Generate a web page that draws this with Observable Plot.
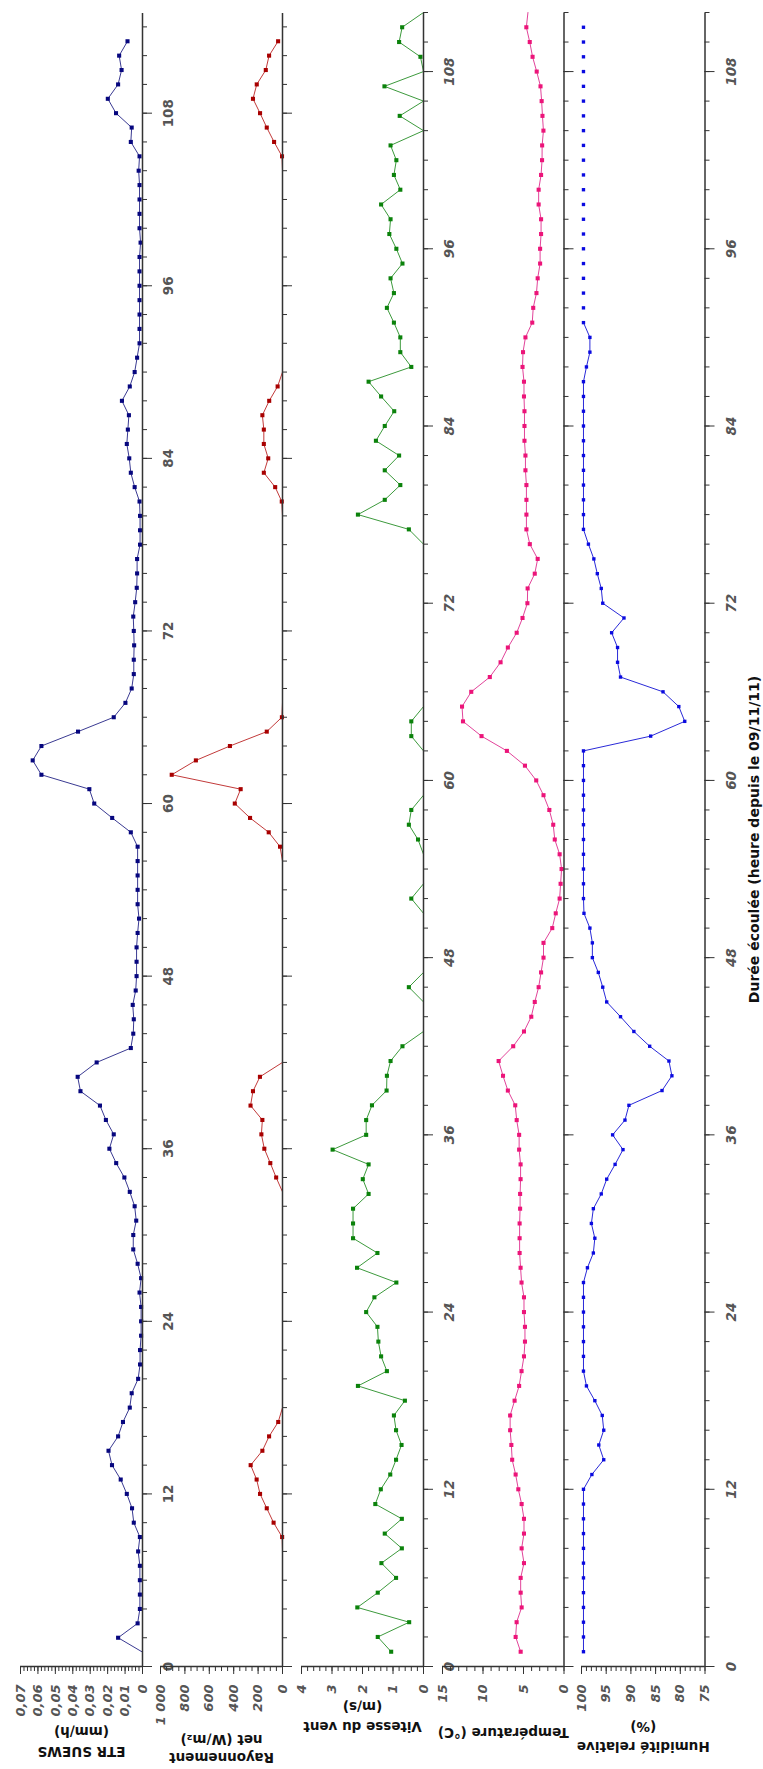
<!DOCTYPE html>
<html><head><meta charset="utf-8">
<script src="https://cdn.jsdelivr.net/npm/d3@7"></script>
<script src="https://cdn.jsdelivr.net/npm/@observablehq/plot@0.6"></script>
<style>
html,body{margin:0;padding:0;background:#fff;width:763px;height:1769px;overflow:hidden;}
#rot{position:absolute;left:0;top:0;width:1769px;height:763px;transform-origin:0 0;transform:translate(0px,1769px) rotate(-90deg);}
#rot svg{position:absolute;left:0;top:0;}
</style></head><body><div id="rot"></div>
<script>
// ---- data (hour = index + 1) ----
const etrValues = [0,0.014,0.0028,0.0015,0.0015,0.0015,0.0015,0.0025,0.0015,0.005,0.006,0.009,0.0125,0.0175,0.0195,0.014,0.0112,0.0073,0.0062,0.0025,
0.0014,0.0014,0.0008,0.0008,0.0008,0.0017,0.0008,0.0028,0.0053,0.0053,0.0036,0.0045,0.0073,0.0104,0.0151,0.019,0.0165,0.021,0.0244,0.0356,
0.0372,0.0263,0.0067,0.0053,0.005,0.0056,0.0039,0.0034,0.0034,0.0034,0.0028,0.002,0.0028,0.0028,0.0028,0.0028,0.0028,0.0067,0.0174,0.0277,
0.0305,0.058,0.063,0.058,0.037,0.0165,0.0098,0.0062,0.005,0.005,0.0048,0.005,0.0053,0.0042,0.0033,0.0031,0.0031,0.0014,0.0014,0.0014,
0.0017,0.0045,0.0067,0.0076,0.009,0.0084,0.0078,0.0118,0.0073,0.0045,0.0031,0.0017,0.0017,0.0017,0.0017,0.0017,0.0017,0.0017,0.0011,0.0017,
0.0017,0.0017,0.0017,0.0022,0.0017,0.0067,0.0062,0.0152,0.0199,0.014,0.012,0.0134,0.0086];
const rayValues = [0,0,0,0,0,0,0,0,3,73,129,184,212,261,165,110,35,0,0,0,
0,0,0,0,0,0,0,0,0,0,0,0,0,52,100,149,173,165,262,242,
185,0,0,0,0,0,0,0,0,0,0,0,0,0,0,0,20,113,266,391,
343,908,710,431,129,5,0,0,0,0,0,0,0,0,0,0,0,0,0,0,
6,60,153,117,153,153,165,109,40,0,0,0,0,0,0,0,0,0,0,0,
0,0,0,0,4,69,129,184,242,211,137,110,36];
const windValues = [1.06,1.5,0.47,2.17,1.5,0.9,1.38,0.71,1.27,0.71,1.58,1.4,1.09,0.9,0.72,0.9,0.97,0.61,2.15,1.2,
1.39,1.48,1.51,1.88,1.61,0.89,2.18,1.51,2.31,2.31,2.31,1.8,1.99,1.8,2.98,1.88,1.88,1.69,1.21,1.2,
1.08,0.69,0,0,0,0.48,0,0,0,0,0,0.4,0,0,0,0.18,0.48,0.4,0,0,
0,0,0.4,0.4,0,0,0,0,0,0,0,0,0,0,0,0,0.48,2.15,1.27,0.76,
1.27,0.8,1.56,1.27,0.96,1.39,1.8,0.4,0.76,0.76,0.97,1.2,0.97,1.08,0.69,0.89,1.12,1.08,1.39,0.76,
0.97,0.89,1.08,0,0.78,0,1.28,0,0.1,0.8,0.7,0];
const tempValues = [5.35,5.97,5.85,5.23,5.35,5.35,4.94,5.23,4.94,4.94,5.23,5.64,5.97,6.4,6.5,6.65,6.65,6.1,5.54,5.24,
4.94,4.82,4.82,4.94,4.94,5.24,5.36,5.48,5.48,5.48,5.42,5.42,5.36,5.36,5.54,5.54,5.84,6.02,6.93,7.53,
8.07,6.27,4.94,4.04,3.61,3.13,2.83,2.53,2.53,1.45,1.02,0.54,0.42,0.3,0.54,1.14,1.33,1.81,2.53,3.43,
4.82,7.05,10.18,12.47,12.59,11.45,9.16,7.83,6.93,5.84,5.12,4.52,4.49,3.61,3.25,4.22,4.64,4.64,4.64,4.64,
4.76,4.76,4.88,4.88,4.88,4.94,4.94,5.12,5.06,4.76,3.92,3.8,3.4,3.25,2.95,2.95,2.83,2.83,3.13,3.13,
2.83,2.71,2.7,2.54,2.66,2.76,2.9,3.37,3.88,4.23,4.65,4.45];
const tempLastMarkedHour = 111;
const humValues = [99.6,99.6,99.6,99.6,99.6,99.6,99.6,99.6,99.6,99.6,99.6,99.6,97.9,95.5,96.5,95.5,95.8,97.3,99,99.6,
99.6,99.6,99.6,99.6,99.6,99.6,98.8,97.6,97.3,98,97.6,96,94.9,93.2,91.6,93.7,91.2,90.4,83.7,81.7,
82.3,86.2,89.4,92.1,94.9,95.7,96.6,97.8,97.8,98.3,99.5,99.6,99.6,99.6,99.6,99.6,99.6,99.6,99.6,99.6,
99.6,99.6,86,79.1,80.3,83.5,92.1,92.7,92.7,93.9,91.4,95.7,96,96.8,97.5,98.6,99.6,99.6,99.6,99.6,
99.6,99.6,99.6,99.6,99.6,99.6,99.6,99,98.3,98.3,99.6,99.6,99.6,99.6,99.6,99.6,99.6,99.6,99.6,99.6,
99.6,99.6,99.6,99.6,99.6,99.6,99.6,99.6,99.6,99.6,99.6];
const humLineLastHour = 91;

const hourDomainA = [0, 115];   // ETR, rayonnement
const hourDomainB = [0, 112];   // vent, température, humidité
const xTitle = "Durée écoulée (heure depuis le 09/11/11)";

// ---- layout ----
const W = 1769, H = 763, ML = 102, MR = 13;
const FONT = "DejaVu Sans";

const panels = [
  {values: etrValues, xDomain: hourDomainA, yDomain: [0, 0.07], top: 20, bottom: 142,
   color: "#06067e", lineColor: "#3a3a92", r: 2.3,
   majorY: d3.range(0, 8).map(i => i / 100), minorY: d3.range(0, 36).map(i => i * 0.002),
   fmt: d => d === 0 ? "0" : d.toFixed(2).replace(".", ","),
   xLabels: true, italicX: false,
   titles: [["ETR SUEWS", 17], ["(mm/h)", 37]]},
  {values: rayValues, xDomain: hourDomainA, yDomain: [0, 1000], top: 160, bottom: 282,
   color: "#a80000", lineColor: "#c23a3a", r: 2.3,
   majorY: d3.range(0, 1001, 200), minorY: d3.range(0, 1001, 50),
   fmt: d => d === 1000 ? "1 000" : String(d),
   xLabels: false,
   titles: [["Rayonnement", 11], ["net (W/m₂)", 29]]},
  {values: windValues, xDomain: hourDomainB, yDomain: [0, 4], top: 301, bottom: 423,
   color: "#0b820b", lineColor: "#3d9a3d", r: 2.3,
   majorY: [0, 1, 2, 3, 4], minorY: d3.range(0, 21).map(i => i * 0.2),
   fmt: d => String(d),
   xLabels: true, italicX: true,
   titles: [["Vitesse du vent", 42], ["(m/s)", 62]]},
  {values: tempValues, xDomain: hourDomainB, yDomain: [0, 15], top: 442, bottom: 563.5,
   color: "#ec1479", lineColor: "#e2449a", r: 2.3, markAll: true, markEnd: tempLastMarkedHour,
   majorY: [0, 5, 10, 15], minorY: d3.range(0, 16),
   fmt: d => String(d),
   xLabels: false,
   titles: [["Température (°C)", 36]]},
  {values: humValues, xDomain: hourDomainB, yDomain: [75, 100], top: 581, bottom: 704.5,
   color: "#0a0ae0", lineColor: "#2a2ad8", r: 1.9, markAll: true, lineEnd: humLineLastHour,
   majorY: d3.range(75, 101, 5), minorY: d3.range(75, 101),
   fmt: d => String(d),
   xLabels: true, italicX: true,
   titles: [["Humidité relative", 22], ["(%)", 42]], xTitle: true}
];

function makePanel(cfg) {
  const data = cfg.values.map((v, i) => ({h: i + 1, v}));
  const lineData = cfg.lineEnd ? data.filter(d => d.h <= cfg.lineEnd) : data;
  let dotData = cfg.markAll ? data : data.filter(d => d.v > 0);
  if (cfg.markEnd) dotData = dotData.filter(d => d.h <= cfg.markEnd);
  const xmax = cfg.xDomain[1];
  const minorX = d3.range(0, xmax + 0.01, 2);
  const majorX = d3.range(0, xmax + 0.01, 12);
  const marks = [
    Plot.line(lineData, {x: "h", y: "v", stroke: cfg.lineColor, strokeWidth: 1}),
    Plot.dot(dotData, {x: "h", y: "v", symbol: "square", r: cfg.r, fill: cfg.color, stroke: null}),
    Plot.axisX({ticks: minorX, tickSize: 5, tickFormat: () => "", stroke: "#333", label: null}),
    Plot.axisX({ticks: majorX, tickSize: 10, tickPadding: 11, label: null,
      tickFormat: cfg.xLabels ? (d => String(d)) : (() => ""),
      color: "#555", stroke: "#333", fontSize: 13.5, fontWeight: "bold",
      fontStyle: cfg.italicX ? "italic" : "normal"}),
    Plot.axisY({ticks: cfg.minorY, tickSize: 4, tickFormat: () => "", stroke: "#333", label: null}),
    Plot.axisY({ticks: cfg.majorY, tickSize: 7, tickPadding: 11, tickFormat: cfg.fmt, label: null,
      color: "#555", stroke: "#333", fontSize: 13, fontWeight: "bold", fontStyle: "italic"}),
    Plot.ruleY([cfg.yDomain[0]], {stroke: "#333", strokeWidth: 1.5}),
    Plot.ruleX([0], {stroke: "#333", strokeWidth: 1.5})
  ];
  for (const [t, px] of cfg.titles) {
    marks.push(Plot.text([t], {text: d => d, frameAnchor: "left", dx: px - ML, rotate: -90,
      textAnchor: "middle", lineAnchor: "middle", fontSize: 13.5, fontWeight: "bold", fill: "#111"}));
  }
  if (cfg.xTitle) {
    marks.push(Plot.text([xTitle], {text: d => d, frameAnchor: "bottom", dy: 50,
      textAnchor: "middle", lineAnchor: "middle", fontSize: 14, fontWeight: "bold", fill: "#111"}));
  }
  return Plot.plot({
    width: W, height: H,
    marginLeft: ML, marginRight: MR, marginTop: cfg.top, marginBottom: H - cfg.bottom,
    style: {background: "transparent", fontFamily: FONT, fontSize: "13px", overflow: "visible", color: "#333"},
    x: {domain: cfg.xDomain},
    y: {domain: cfg.yDomain},
    marks
  });
}

const root = document.getElementById("rot");
for (const p of panels) root.appendChild(makePanel(p));
</script></body></html>
